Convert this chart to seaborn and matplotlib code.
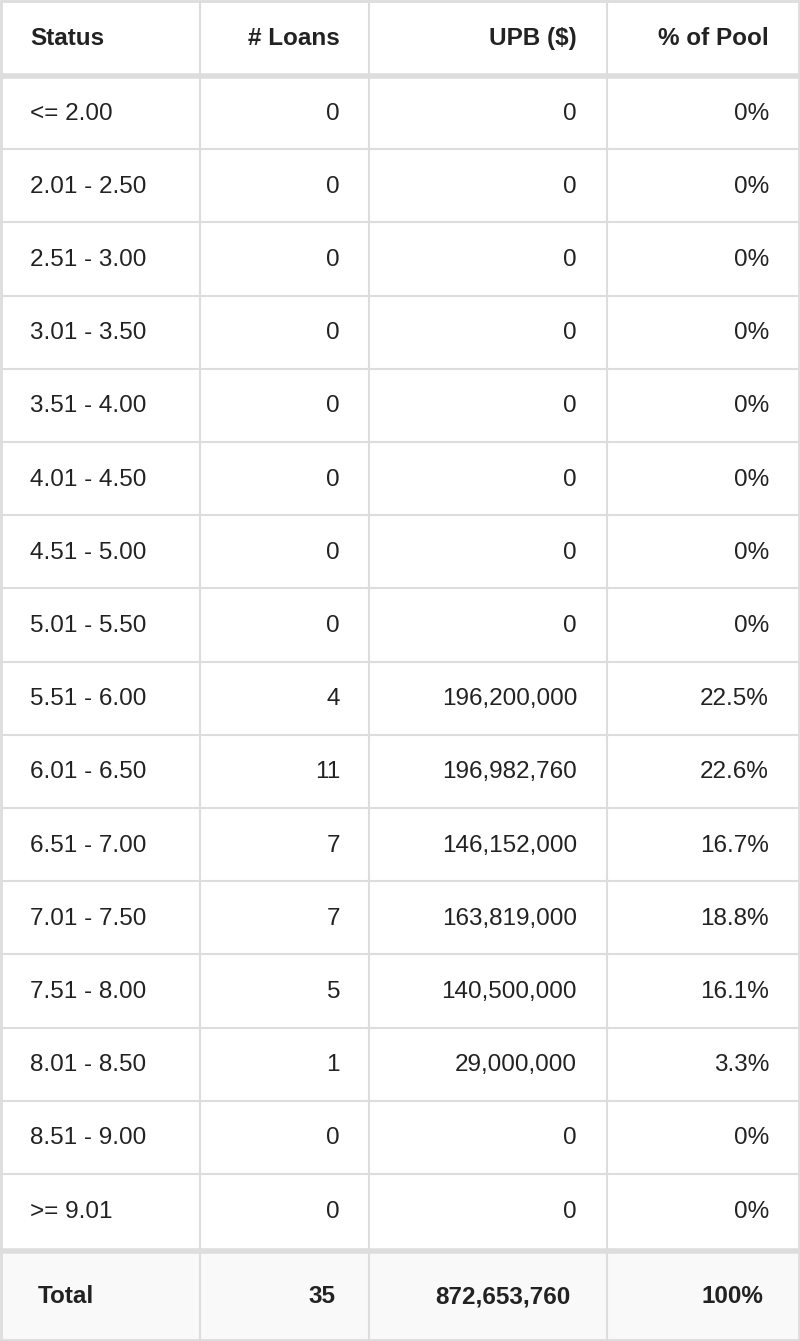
import matplotlib
matplotlib.use("Agg")
import matplotlib.pyplot as plt
import seaborn as sns

# table data
headers = ["Status", "# Loans", "UPB ($)", "% of Pool"]
status = ["<= 2.00", "2.01 - 2.50", "2.51 - 3.00", "3.01 - 3.50", "3.51 - 4.00",
          "4.01 - 4.50", "4.51 - 5.00", "5.01 - 5.50", "5.51 - 6.00", "6.01 - 6.50",
          "6.51 - 7.00", "7.01 - 7.50", "7.51 - 8.00", "8.01 - 8.50", "8.51 - 9.00",
          ">= 9.01"]
loans = [0, 0, 0, 0, 0, 0, 0, 0, 4, 11, 7, 7, 5, 1, 0, 0]
upb = ["0", "0", "0", "0", "0", "0", "0", "0", "196,200,000", "196,982,760",
       "146,152,000", "163,819,000", "140,500,000", "29,000,000", "0", "0"]
pct = ["0%", "0%", "0%", "0%", "0%", "0%", "0%", "0%", "22.5%", "22.6%",
       "16.7%", "18.8%", "16.1%", "3.3%", "0%", "0%"]
total = ["Total", "35", "872,653,760", "100%"]

sns.set_style("white")
plt.rcParams["font.family"] = ["Liberation Sans", "DejaVu Sans"]

W, H = 800, 1341
fig = plt.figure(figsize=(8, 13.41), dpi=100)
ax = fig.add_axes([0, 0, 1, 1])
ax.set_xlim(0, W)
ax.set_ylim(H, 0)
ax.axis("off")

col_x = [0, 200, 369, 607, 800]
header_h = 76
row_h = 73.2
total_top = header_h + row_h * len(status) + 5
line_c = "#dddddd"
txt_c = "#222222"

# total row background
ax.fill_between([0, W], total_top, H, color="#f9f9f9", zorder=0)

# grid lines
row_lines = [header_h + row_h * i for i in range(1, len(status))]
ax.hlines(row_lines, 0, W, color=line_c, lw=1.5)
ax.hlines([header_h, total_top - 1], 0, W, color=line_c, lw=4)
ax.vlines(col_x[1:-1], 0, H, color=line_c, lw=1.5)
ax.vlines([1, W - 1], 0, H, color=line_c, lw=2)
ax.hlines([1, H - 1], 0, W, color=line_c, lw=2)

fs = 17.5
# header
hy = header_h / 2
ax.text(30, hy, headers[0], ha="left", va="center", fontsize=fs, weight="bold", color=txt_c)
for x, h in zip([340, 577, 769], headers[1:]):
    ax.text(x, hy, h, ha="right", va="center", fontsize=fs, weight="bold", color=txt_c)

# body
for i in range(len(status)):
    y = header_h + row_h * i + row_h / 2 + 1
    ax.text(30, y, status[i], ha="left", va="center", fontsize=fs, color=txt_c)
    ax.text(340, y, str(loans[i]), ha="right", va="center", fontsize=fs, color=txt_c)
    ax.text(577, y, upb[i], ha="right", va="center", fontsize=fs, color=txt_c)
    ax.text(769, y, pct[i], ha="right", va="center", fontsize=fs, color=txt_c)

# total
ty = (total_top + H) / 2
ax.text(38, ty, total[0], ha="left", va="center", fontsize=fs, weight="bold", color=txt_c)
for x, t in zip([335, 570, 763], total[1:]):
    ax.text(x, ty, t, ha="right", va="center", fontsize=fs, weight="bold", color=txt_c)

fig.savefig("out.png", dpi=100)
